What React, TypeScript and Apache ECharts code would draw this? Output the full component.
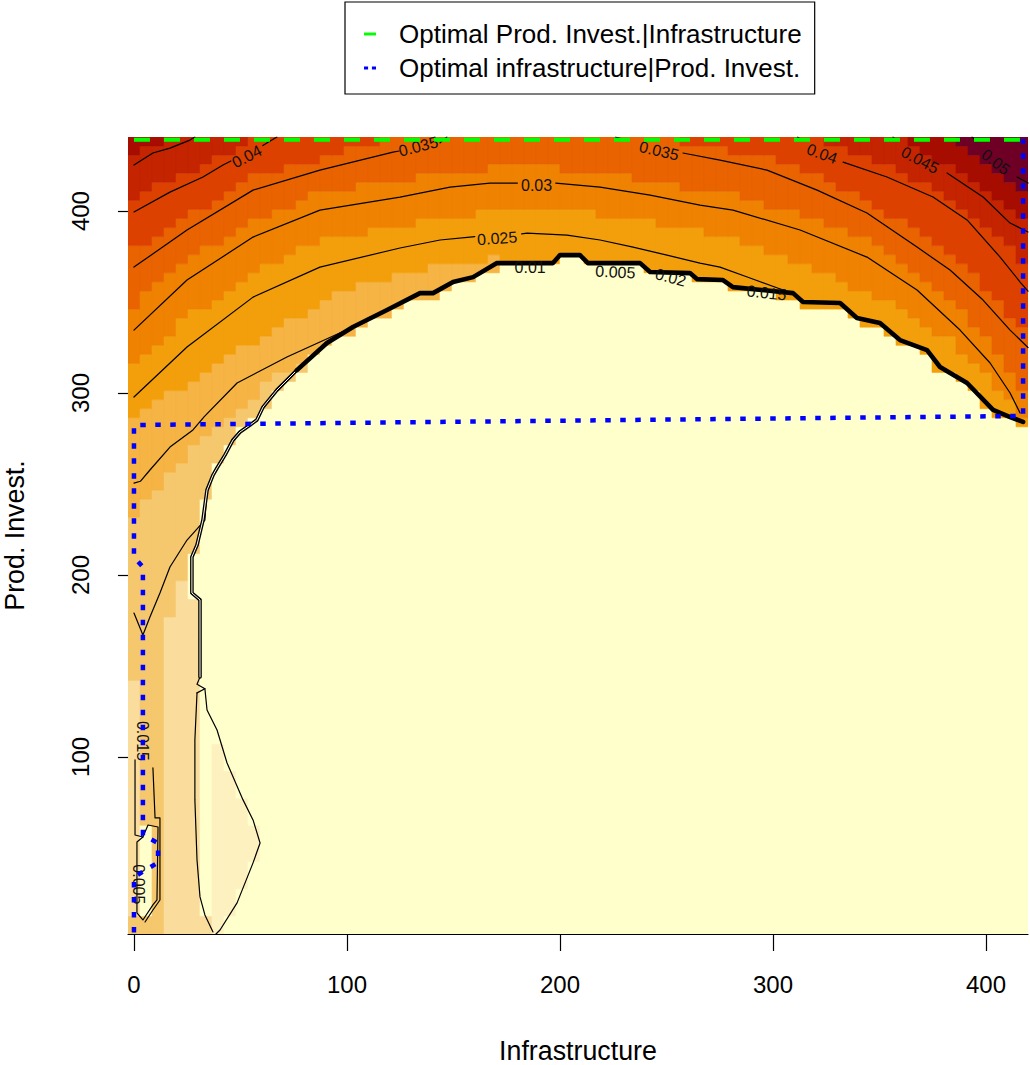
import React, { useEffect, useRef } from 'react';
import * as echarts from 'echarts';

type P = [number, number];

const FONT = '"Liberation Sans", Arial, Helvetica, sans-serif';

// plot extents (the image fills the plot region)
const X_MIN = -2.8;
const X_MAX = 419.7;
const Y_MIN = 2.7;
const Y_MAX = 440.7;
const N_COLS = 75;
const N_ROWS = 88;

const xTickValues = [0, 100, 200, 300, 400];
const yTickValues = [100, 200, 300, 400];
const xTitle = 'Infrastructure';
const yTitle = 'Prod. Invest.';
const greenName = 'Optimal Prod. Invest.|Infrastructure';
const blueName = 'Optimal infrastructure|Prod. Invest.';

// colour levels, light -> dark
const bandColors = ['#FFFFCC', '#FEF1C0', '#FADD9C', '#F6C86E', '#F5B443', '#F39F0C', '#EF8200', '#E96300', '#DD4100', '#C52400', '#A60D00', '#6E0026'];

// thick boundary of the low region (arch), left -> right
const archPts: P[] = [[57.7, 285.2], [60.6, 292.3], [67.1, 301.6], [76.5, 312.6], [90.6, 327.5], [102.8, 336.3], [118.8, 345.6], [134.3, 354.9], [140.4, 354.9], [149.8, 361], [159.2, 363.7], [170.4, 371.4], [196.7, 371.4], [200, 375.8], [209.4, 375.8], [213.1, 371.4], [237.6, 371.4], [242.3, 366.5], [261, 365.9], [264.3, 362.6], [276.5, 362.1], [281.2, 358.2], [309.4, 354.9], [314.1, 350], [331.5, 349.5], [339.4, 341.2], [350.2, 338.5], [359.6, 329.1], [372.3, 323.6], [378.4, 314.3], [391.1, 305.5], [403.3, 290.7], [411.3, 286.8], [417.4, 284.1]];
// left double line, bottom -> top
const dblPts: P[] = [[31, 144], [31, 164.3], [31, 186.3], [27.2, 190.1], [27.2, 209.9], [29.6, 216.5], [32.4, 230.2], [34.3, 246.7], [37.1, 254.9], [39, 258.8], [42.7, 265.9], [46.5, 274.2], [49.8, 278.6], [54.5, 282.4], [57.7, 285.2]];
const leftLinePts: P[] = [[37.1, 3.8], [33.3, 13.2], [31, 23.1], [29.6, 43.4], [28.6, 76.4], [28.6, 109.3], [29.6, 135.2]];
const zigzagPts: P[] = [[29.6, 135.2], [33.3, 137.5], [29.6, 140], [31, 144]];
const tonguePts: P[] = [[33.3, 137.5], [34.3, 125.8], [39, 114.8], [43.7, 96.7], [51.2, 76.4], [55.9, 65.4], [59.2, 52.7], [55.9, 41.8], [48.4, 19.8], [40.4, 4.9], [38.5, 2.7]];

// colour band edges
const tongueFill: P[] = [[35.7, 2.7], [35.7, 107.7], [40.4, 107.7], [43.7, 96.7], [51.2, 76.4], [59.2, 52.7], [55.9, 41.8], [48.4, 19.8], [41.3, 2.7]];
const t3Left: P[] = [[13.6, 2.7], [13.6, 168.1], [18.3, 182.4], [23, 197.3], [27.2, 209.9]];
const t4Left: P[] = [[-2.8, 230.2], [7.5, 241.2], [19.2, 258.8], [31, 272.5], [45.1, 287.9], [56.8, 298.9], [66.2, 308.2], [74.2, 313.7]];
const t5Left: P[] = [[-2.8, 283.5], [8.9, 292.3], [24.9, 305.5], [40.4, 316.5], [55.9, 327.5], [71.8, 338.5], [87.3, 349.5], [102.8, 358.2], [118.8, 363.7], [134.3, 367.6], [148.4, 371.4], [170.4, 374.2], [178.9, 372]];
const t6: P[] = [[-2.8, 314.3], [24.9, 341.2], [55.9, 366.5], [87.3, 383], [124.9, 392.3], [148.4, 397.3], [171.8, 399.5], [200, 400.5], [218.8, 398.4], [242.3, 393.9], [265.7, 388.5], [289.2, 381.3], [312.7, 372], [336.2, 359.3], [359.6, 347.8], [383.1, 329.1], [406.6, 301.6], [417.4, 286.8], [419.7, 285.5]];
const t7: P[] = [[-2.8, 345.6], [24.9, 372], [55.9, 395.1], [87.3, 409.9], [124.9, 417], [148.4, 421.4], [167.1, 423.6], [200, 423.6], [218.8, 421.4], [242.3, 417], [265.7, 411.5], [281.2, 408.8], [312.7, 398.9], [344.1, 384.1], [367.6, 366.5], [387.8, 345.6], [401.9, 326.4], [411.3, 309.9], [419.7, 297.3]];
const t8L: P[] = [[-2.8, 376.9], [24.9, 396.7], [55.9, 418.7], [87.3, 429.1], [110.8, 437.4], [120.2, 440.7]];
const t8R: P[] = [[246.9, 440.7], [275.1, 434.6], [297.2, 429.1], [320.7, 418.7], [344.1, 406], [367.6, 388.5], [383.1, 375.8], [398.6, 359.3], [411.3, 342.9], [419.7, 334.6]];
const t9L: P[] = [[-2.8, 406], [16.9, 417], [32.4, 425.3], [47.4, 434.6], [56.8, 440.7]];
const t9R: P[] = [[322.1, 440.7], [345.5, 428], [373.7, 414.3], [392.5, 399.5], [406.6, 384.1], [419.7, 370.3]];
const t10L: P[] = [[-2.8, 428], [7.5, 434.6], [15.5, 440.7]];
const t10R: P[] = [[360, 440.7], [381.7, 424.5], [400.5, 409], [419.7, 395.5]];
const t11: P[] = [[380.8, 440.7], [399.5, 428], [411.3, 414.3], [419.7, 405.5]];
const leftStripK2: P[] = [[-2.8, 142.3], [0.5, 142.3], [0.5, 10.4], [-2.8, 10.4]];
const islandK0: P[] = [[1.4, 53.3], [1.4, 14.3], [4.2, 10.4], [8.9, 18.7], [10.8, 21.4], [11.3, 61.5], [6.6, 62.6], [4.2, 56]];

// contour lines (broken where labels sit)
const c045L: P[] = [[0, 425.3], [8.9, 431.9], [16.9, 434.6], [26.3, 439], [28.6, 440.7]];
const c040La: P[] = [[0, 399.5], [16.9, 410.4], [32.4, 418.7], [41.8, 425.3], [45.5, 427.5]];
const c040Lb: P[] = [[60.5, 436], [62.4, 437.4], [67.1, 440.7]];
const c035La: P[] = [[0, 369.2], [24.9, 389.6], [55.9, 411.5], [87.3, 422.5], [121.6, 432.4], [124.5, 433]];
const c035Lb: P[] = [[143.7, 437.5], [146.9, 440.7]];
const c030a: P[] = [[0, 334.6], [24.9, 362.1], [55.9, 385.7], [87.3, 400.5], [124.9, 407.7], [148.4, 413.2], [167.1, 415.4], [180, 415.4]];
const c030b: P[] = [[198, 415.4], [218.8, 413.2], [242.3, 408.8], [265.7, 403.3], [281.2, 400.5], [312.7, 389.6], [344.1, 374.7], [367.6, 356.6], [387.8, 334.6], [401.9, 316.5], [411.3, 300], [416, 289]];
const c025a: P[] = [[0, 297.8], [24.9, 325.3], [55.9, 352.7], [87.3, 369.2], [124.9, 379.7], [143.7, 384.1], [157.7, 385.7], [160, 386]];
const c025b: P[] = [[182, 387.5], [184.5, 387.9], [203.3, 386.8], [218.8, 384.1], [234.3, 380.2], [250.2, 375.8], [265.7, 371.4], [275.1, 369.2], [289.2, 363.2], [304.7, 356.6]];
const c020: P[] = [[0, 250.5], [3, 251.5], [7.5, 257.7], [16.9, 270.3], [27.7, 279.7], [33, 287], [48.4, 305.5], [71.8, 319.8], [102.8, 336.3], [110.8, 341.8]];
const c015V: P[] = [[34.3, 246.7], [33.3, 230.2], [24.9, 219.2], [16.9, 204.4], [12.2, 190.1], [7.5, 176.9], [4.2, 167], [0, 179.1]];
const c035Ra: P[] = [[226, 440.7], [231.5, 439]];
const c035Rb: P[] = [[257.7, 431.9], [275.1, 428], [297.2, 422.5], [320.7, 411.5], [344.1, 398.9], [367.6, 380.2], [383.1, 367.6], [398.6, 351.1], [411.3, 334.6], [419.7, 325]];
const c040Ra: P[] = [[311.5, 440.7], [313, 439.5]];
const c040Rb: P[] = [[332.9, 426.9], [353.5, 418.7], [375.1, 407.7], [391.1, 395.1], [406.6, 374.7], [416, 361], [419.7, 356]];
const c045Ra: P[] = [[356.3, 440.7], [357.5, 439.5]];
const c045Rb: P[] = [[381.7, 420.9], [398.6, 407.7], [411.3, 393.4], [419.7, 388.5]];
const c050a: P[] = [[393.4, 440.7], [394.5, 439.5]];
const c050b: P[] = [[414.6, 418.7], [419.7, 415.4]];
const outerL: P[] = [[0.5, 98.4], [0.5, 57.1], [4.2, 56]];
const outerR: P[] = [[8.9, 94], [9.9, 66.5], [12.2, 66.5], [12.2, 21.4], [8.9, 15.9], [5.2, 9.3]];
const loopPts: P[] = [[1.4, 53.3], [1.4, 14.3], [4.2, 10.4], [8.9, 18.7], [10.8, 21.4], [11.3, 61.5], [6.6, 62.6], [4.2, 56], [1.4, 53.3]];

// contour labels
const labelText = ['0.04', '0.035', '0.03', '0.025', '0.035', '0.04', '0.045', '0.05', '0.01', '0.005', '0.02', '0.015', '0.015', '0.005'];
const labelX = [53, 133.5, 189, 170.5, 246.5, 323, 369, 404.5, 186, 226, 252, 297, 4.2, 2];
const labelY = [430, 435.5, 414, 385, 433, 431.5, 428, 427, 369, 366.5, 363.5, 355, 108.8, 30];
const labelAngle = [27, 14, 0, 4, -13, -20, -28, -38, 0, -3, -15, -6, -90, -90];

// optimal lines
const blueX = [0, 0, 11.3, 11.3, 4.2, 4.2, 0, 0, 417.4, 417.4];
const blueY = [3.5, 34, 42, 52.7, 57, 204.4, 209.9, 282.4, 287.4, 439.5];
const greenX = [0, 417.4];
const greenY = [439.2, 439.2];

function insidePoly(x: number, y: number, poly: P[]) {
  let inside = false;
  for (let i = 0, j = poly.length - 1; i < poly.length; j = i++) {
    const xi = poly[i][0], yi = poly[i][1], xj = poly[j][0], yj = poly[j][1];
    if ((yi > y) !== (yj > y) && x < ((xj - xi) * (y - yi)) / (yj - yi) + xi) inside = !inside;
  }
  return inside;
}

function buildOption() {
  const TL: P = [X_MIN, Y_MAX], TR: P = [X_MAX, Y_MAX], BL: P = [X_MIN, Y_MIN];
  // fill edge sits a little under the drawn thick line so that no cream cell peeks above it
  const archFill: P[] = archPts.map((p) => [p[0], p[1] - 2] as P);
  const archEnd: P = [X_MAX, archFill[archFill.length - 1][1]];
  const layers: { level: number; poly: P[] }[] = [
    { level: 1, poly: tongueFill },
    { level: 2, poly: [[38.5, Y_MIN], ...leftLinePts, ...zigzagPts.slice(1), ...dblPts.slice(1), ...archFill.slice(1), archEnd, TR, TL, BL] },
    { level: 3, poly: [...t3Left, ...dblPts.slice(5), ...archFill.slice(1), archEnd, TR, TL, BL] },
    { level: 4, poly: [...t4Left, ...archFill.slice(4), archEnd, TR, TL] },
    { level: 5, poly: [...t5Left, ...archFill.slice(12), archEnd, TR, TL] },
    { level: 6, poly: [...t6, TR, TL] },
    { level: 7, poly: [...t7, TR, TL] },
    { level: 8, poly: [...t8L, TL] },
    { level: 8, poly: [...t8R, TR] },
    { level: 9, poly: [...t9L, TL] },
    { level: 9, poly: [...t9R, TR] },
    { level: 10, poly: [...t10L, TL] },
    { level: 10, poly: [...t10R, TR] },
    { level: 11, poly: [...t11, TR] },
    { level: 2, poly: leftStripK2 },
    { level: 0, poly: islandK0 },
  ];

  // raster of image cells, merged into vertical runs
  const cw = (X_MAX - X_MIN) / N_COLS;
  const ch = (Y_MAX - Y_MIN) / N_ROWS;
  const cells: number[][] = [];
  for (let c = 0; c < N_COLS; c++) {
    const x0 = X_MIN + c * cw;
    const cx = x0 + cw / 2;
    let runStart = 0;
    let runLevel = -1;
    for (let r = 0; r <= N_ROWS; r++) {
      let level = -2;
      if (r < N_ROWS) {
        const cy = Y_MIN + (r + 0.5) * ch;
        level = 0;
        for (const l of layers) if (insidePoly(cx, cy, l.poly)) level = l.level;
      }
      if (level !== runLevel) {
        if (runLevel >= 0) cells.push([x0, x0 + cw, Y_MIN + runStart * ch, Y_MIN + r * ch, runLevel]);
        runStart = r;
        runLevel = level;
      }
    }
  }

  const mkLine = (pts: P[], width: number, color = '#000', z = 3) => ({
    type: 'line', data: pts, symbol: 'none', showSymbol: false, silent: true, clip: true, z,
    lineStyle: { color, width, cap: 'round', join: 'round' },
  });

  const contours = [c045L, c040La, c040Lb, c035La, c035Lb, c030a, c030b, c025a, c025b, c020, c015V, c035Ra, c035Rb, c040Ra, c040Rb, c045Ra, c045Rb, c050a, c050b, outerL, outerR, loopPts, leftLinePts, zigzagPts, tonguePts];

  const dbl = [...dblPts, ...archPts.slice(1, 4)];
  const thick = archPts.slice(3);

  const series: any[] = [
    {
      type: 'custom', coordinateSystem: 'cartesian2d', silent: true, clip: true, z: 1,
      data: cells, encode: { x: [0, 1], y: [2, 3] },
      renderItem: (params: any, api: any) => {
        const p0 = api.coord([api.value(0), api.value(3)]);
        const p1 = api.coord([api.value(1), api.value(2)]);
        const col = bandColors[api.value(4)];
        return { type: 'rect', shape: { x: p0[0], y: p0[1], width: p1[0] - p0[0], height: p1[1] - p0[1] }, style: { fill: col, stroke: col, lineWidth: 0.6 } };
      },
    },
    ...contours.map((pts) => mkLine(pts, 1.2)),
    mkLine(dbl, 3.6, '#000', 4),
    mkLine(dbl, 1.0, '#FFFBE0', 4),
    mkLine(thick, 4.6, '#000', 4),
    {
      type: 'custom', coordinateSystem: 'cartesian2d', silent: true, z: 5,
      data: labelX.map((x, i) => [x, labelY[i]]),
      renderItem: (params: any, api: any) => {
        const i = params.dataIndex;
        const p = api.coord([api.value(0), api.value(1)]);
        return {
          type: 'text', x: p[0], y: p[1], rotation: (labelAngle[i] * Math.PI) / 180,
          style: { text: labelText[i], fill: '#111', fontSize: 16, fontFamily: FONT, align: 'center', verticalAlign: 'middle', textAlign: 'center', textVerticalAlign: 'middle' },
        };
      },
    },
    {
      type: 'line', name: blueName, color: '#0000FF', data: blueX.map((x, i) => [x, blueY[i]]), symbol: 'none', showSymbol: false, silent: true, z: 6,
      itemStyle: { color: '#0000FF' },
      lineStyle: { color: '#0000FF', width: 4.5, type: [5.5, 9.5], cap: 'butt' },
    },
    {
      type: 'line', name: greenName, color: '#00FF00', data: greenX.map((x, i) => [x, greenY[i]]), symbol: 'none', showSymbol: false, silent: true, z: 6,
      itemStyle: { color: '#00FF00' },
      lineStyle: { color: '#00FF00', width: 4, type: [16, 14], cap: 'butt' },
    },
  ];

  return {
    animation: false,
    backgroundColor: '#FFFFFF',
    grid: { left: 128, right: 2, top: 137, bottom: 131, containLabel: false, outerBoundsMode: 'none' },
    legend: {
      left: 345, top: 2, orient: 'vertical', selectedMode: false,
      borderColor: '#000', borderWidth: 1.2, borderRadius: 0, backgroundColor: '#FFFFFF',
      padding: [19, 13, 13, 19], itemGap: 8, itemWidth: 12, itemHeight: 14, symbolKeepAspect: true,
      textStyle: { fontSize: 26, color: '#000', fontFamily: FONT, padding: [0, 0, 0, 18] },
      data: [
        { name: greenName, icon: 'path://M0,0H10V2.4H0Z', itemStyle: { color: '#00FF00', borderWidth: 0 } },
        { name: blueName, icon: 'path://M0,0H3.4V2.4H0Z M6.6,0H10V2.4H6.6Z', itemStyle: { color: '#0000FF', borderWidth: 0 } },
      ],
    },
    xAxis: {
      type: 'value', min: X_MIN, max: X_MAX,
      name: xTitle, nameLocation: 'middle', nameGap: 103, nameMoveOverlap: false,
      nameTextStyle: { fontSize: 26.8, color: '#000', fontFamily: FONT },
      axisLine: { show: true, onZero: false, lineStyle: { color: '#000', width: 1.2 } },
      axisTick: { show: true, customValues: xTickValues, length: 17, lineStyle: { color: '#000', width: 1.2 } },
      axisLabel: { customValues: xTickValues, margin: 38, fontSize: 24, color: '#000', fontFamily: FONT },
      splitLine: { show: false },
    },
    yAxis: {
      type: 'value', min: Y_MIN, max: Y_MAX,
      name: yTitle, nameLocation: 'middle', nameGap: 100, nameRotate: 90, nameMoveOverlap: false,
      nameTextStyle: { fontSize: 26.8, color: '#000', fontFamily: FONT },
      axisLine: { show: false },
      axisTick: { show: true, customValues: yTickValues, length: 16, lineStyle: { color: '#000', width: 1.2 } },
      axisLabel: { customValues: yTickValues, rotate: 90, margin: 36, fontSize: 24, color: '#000', fontFamily: FONT },
      splitLine: { show: false },
    },
    series,
  };
}

export default function App() {
  const ref = useRef<HTMLDivElement>(null);
  useEffect(() => {
    document.body.style.margin = '0';
    const chart = echarts.init(ref.current as HTMLDivElement, undefined, { renderer: 'svg' });
    chart.setOption(buildOption() as any);
    return () => chart.dispose();
  }, []);
  return <div ref={ref} style={{ width: 1030, height: 1065 }} />;
}
